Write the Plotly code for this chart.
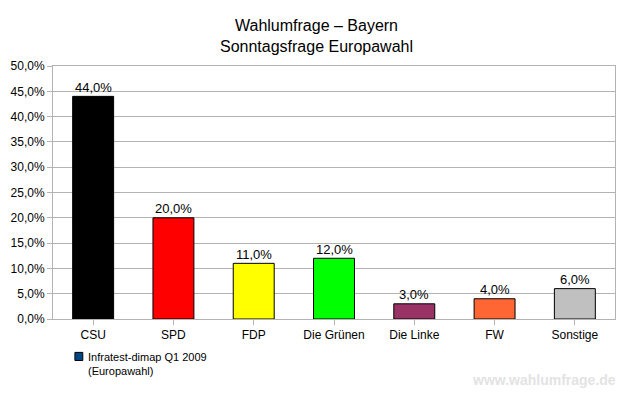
import plotly.graph_objects as go

categories = ["CSU", "SPD", "FDP", "Die Grünen", "Die Linke", "FW", "Sonstige"]
values = [44.0, 20.0, 11.0, 12.0, 3.0, 4.0, 6.0]
colors = ["#000000", "#ff0000", "#ffff00", "#00ff00", "#993366", "#ff6633", "#c0c0c0"]
series_name = "Infratest-dimap Q1 2009<br>(Europawahl)"
tick_vals = [0, 5, 10, 15, 20, 25, 30, 35, 40, 45, 50]
tick_text = [f"{v:.1f}%".replace(".", ",") for v in tick_vals]

labels = [f"{v:.1f}%".replace(".", ",") for v in values]

FONT = "Liberation Sans, Arial, sans-serif"

fig = go.Figure()
fig.add_trace(go.Bar(
    x=categories, y=values, marker=dict(color=colors, line=dict(color="black", width=1)),
    width=0.51, showlegend=False, hoverinfo="skip",
))

annotations = [
    dict(x=c, y=v, text=t, xref="x", yref="y", xanchor="center", yanchor="bottom",
         yshift=-0.5, showarrow=False, font=dict(size=13, color="black", family=FONT))
    for c, v, t in zip(categories, values, labels)
]
annotations += [
    dict(text=series_name, xref="paper", yref="paper", x=0.058, y=-0.118,
         xanchor="left", yanchor="top", align="left", showarrow=False,
         font=dict(size=11, color="black")),
    dict(text="<b>www.wahlumfrage.de</b>", xref="paper", yref="paper", x=1.005, y=-0.24,
         xanchor="right", yanchor="middle", showarrow=False,
         font=dict(size=14, color="#e3e3e3")),
]

# legend drawn manually (marker square + text)
fig.add_shape(type="rect", xref="paper", yref="paper",
              x0=0.039, x1=0.053, y0=-0.132, y1=-0.164,
              fillcolor="#004586", line=dict(color="black", width=1))

fig.update_layout(
    width=633, height=396,
    margin=dict(l=53, r=18, t=66, b=77, autoexpand=False),
    paper_bgcolor="white", plot_bgcolor="white",
    showlegend=False,
    font=dict(family=FONT, size=12, color="black"),
    title=dict(text="Wahlumfrage – Bayern<br>Sonntagsfrage Europawahl", x=0.5, xanchor="center",
               yref="container", y=0.922, yanchor="middle", font=dict(size=16, color="black")),
    annotations=annotations,
)
fig.update_yaxes(range=[0, 50], tickvals=tick_vals, ticktext=tick_text,
                 showgrid=True, gridcolor="#b3b3b3", gridwidth=1,
                 showline=True, linecolor="#b3b3b3", linewidth=1, mirror=True,
                 ticks="outside", ticklen=5, tickcolor="#b3b3b3", zeroline=False,
                 tickfont=dict(size=12, color="black"))
fig.update_xaxes(showline=True, linecolor="#b3b3b3", linewidth=1, mirror=True,
                 ticks="outside", ticklen=5, tickcolor="#b3b3b3",
                 tickfont=dict(size=12, color="black"))

fig.write_html("out.html", config={"displayModeBar": False},
               post_script="document.body.style.margin='0';")
